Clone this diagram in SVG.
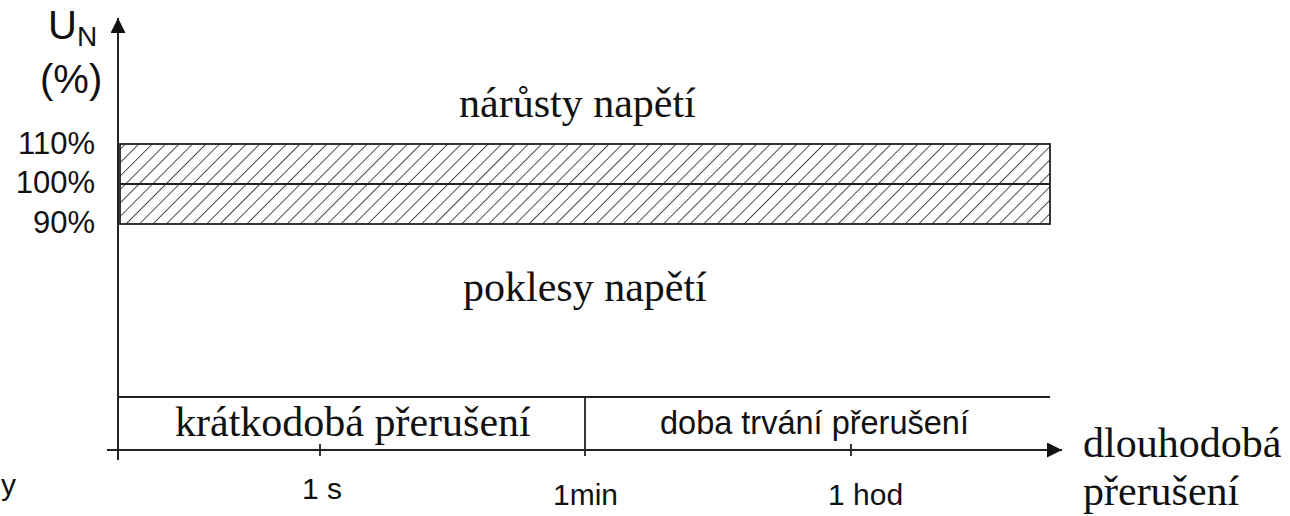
<svg xmlns="http://www.w3.org/2000/svg" width="1290" height="516" viewBox="0 0 1290 516">
<style>
.ax{stroke:#222;stroke-width:2;fill:none}
.ln{stroke:#222;stroke-width:1.8;fill:none}
.sans{font-family:"Liberation Sans",Arial,sans-serif;fill:#111}
.serif{font-family:"Liberation Serif","Times New Roman",serif;fill:#111}
</style>
<defs>
<pattern id="hatch" patternUnits="userSpaceOnUse" width="9.5" height="9.5" patternTransform="rotate(45)">
<line x1="0" y1="-1" x2="0" y2="11" stroke="#222" stroke-width="1.6"/>
</pattern>
<marker id="arr" viewBox="0 0 15 15" refX="15" refY="7.5" markerWidth="15" markerHeight="15" markerUnits="userSpaceOnUse" orient="auto">
<path d="M0,0 L15,7.5 L0,15 Z" fill="#111"/>
</marker>
</defs>
<rect width="1290" height="516" fill="#fff"/>
<g id="band">
<rect x="120" y="144" width="930" height="80" style="fill:url(#hatch);stroke:#222;stroke-width:1.8"/>
<line x1="120" y1="184" x2="1050" y2="184" class="ln"/>
</g>
<g id="connectors">
<line x1="118" y1="460" x2="118" y2="18" class="ax" marker-end="url(#arr)"/>
<line x1="107" y1="450" x2="1062" y2="450" class="ax" marker-end="url(#arr)"/>
<line x1="118" y1="397" x2="1050" y2="397" class="ln"/>
<line x1="585" y1="397" x2="585" y2="456" class="ln"/>
<line x1="320" y1="444" x2="320" y2="456" class="ln"/>
<line x1="851" y1="444" x2="851" y2="456" class="ln"/>
</g>
<g id="axis-labels">
<text x="48" y="39" class="sans" font-size="40">U</text>
<text x="77" y="46" class="sans" font-size="28">N</text>
<text x="40" y="93" class="sans" font-size="40">(%)</text>
<text x="95" y="154" class="sans" font-size="31" text-anchor="end">110%</text>
<text x="95" y="193" class="sans" font-size="31" text-anchor="end">100%</text>
<text x="95" y="233" class="sans" font-size="31" text-anchor="end">90%</text>
</g>
<g id="regions">
<text x="459" y="117" class="serif" font-size="42">nárůsty napětí</text>
<text x="463" y="301" class="serif" font-size="42">poklesy napětí</text>
<text x="175" y="436" class="serif" font-size="42">krátkodobá přerušení</text>
<text x="660" y="434" class="sans" font-size="32.5">doba trvání přerušení</text>
</g>
<g id="ticks">
<text x="302" y="499" class="sans" font-size="30">1 s</text>
<text x="553" y="505" class="sans" font-size="30">1min</text>
<text x="828" y="505" class="sans" font-size="30">1 hod</text>
<text x="1" y="495" class="sans" font-size="30">y</text>
</g>
<g id="x-label">
<text x="1083" y="457" class="serif" font-size="42">dlouhodobá</text>
<text x="1083" y="505" class="serif" font-size="42">přerušení</text>
</g>
</svg>
